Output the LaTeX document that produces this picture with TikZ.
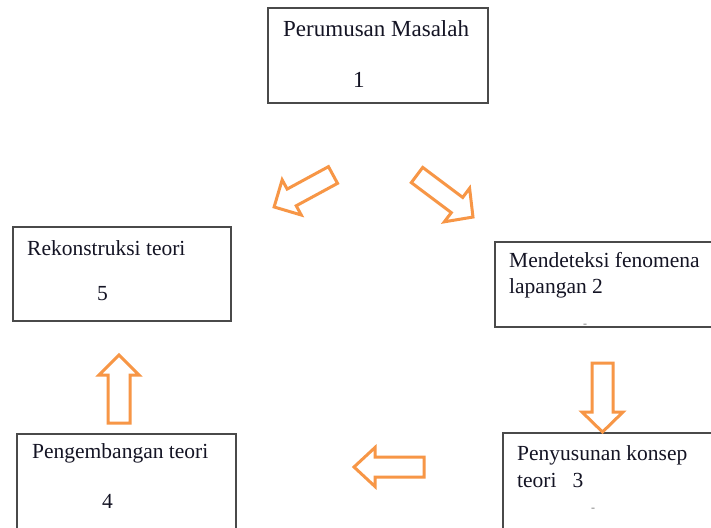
\documentclass[tikz,border=0pt]{standalone}
\usepackage{fontspec}
\setmainfont{Liberation Serif}
\definecolor{boxgray}{HTML}{4A4A4A}
\definecolor{arrorange}{HTML}{F79646}
\definecolor{textc}{HTML}{141424}
\begin{document}
\begin{tikzpicture}[x=1pt,y=-1pt,
  box/.style={draw=boxgray, line width=1.6pt, inner sep=0pt},
  lbl/.style={anchor=base west, inner sep=0pt, font=\fontsize{21.5}{26}\selectfont, text=textc},
  biglbl/.style={lbl, font=\fontsize{23}{27}\selectfont},
  dotlbl/.style={anchor=center, inner sep=0pt, font=\fontsize{12}{12}\selectfont, text=gray},
  arr/.style={draw=arrorange, line width=3pt, line join=miter},
  pics/barrow/.style args={#1/#2/#3/#4}{code={%
    \draw[arr] (0,-#2)--(#1-#4,-#2)--(#1-#4,-#3)--(#1,0)--(#1-#4,#3)--(#1-#4,#2)--(0,#2)--cycle;}}]
\useasboundingbox (0,0) rectangle (711,527);
\clip (0,0) rectangle (711,527);
\fill[white] (0,0) rectangle (711,527);
% boxes
\node[box, minimum width=220pt, minimum height=95pt] (b1) at (378,55.5) {};
\node[box, minimum width=235pt, minimum height=85pt] (b2) at (612.5,284.5) {};
\node[box, minimum width=237pt, minimum height=127pt] (b3) at (621.5,496.5) {};
\node[box, minimum width=219pt, minimum height=126pt] (b4) at (126.5,497) {};
\node[box, minimum width=218pt, minimum height=94pt] (b5) at (122,274) {};
% labels
\node[biglbl] (t1a) at (283,37) {Perumusan Masalah};
\node[biglbl] (t1b) at (353,87) {1};
\node[lbl] (t2a) at (509,267) {Mendeteksi fenomena};
\node[lbl] (t2b) at (509,293) {lapangan 2};
\node[dotlbl] (t2c) at (585,326) {-};
\node[lbl] (t3a) at (517,460) {Penyusunan konsep};
\node[lbl] (t3b) at (517,487) {teori\ \ \ 3};
\node[dotlbl] (t3c) at (593,510) {-};
\node[lbl] (t4a) at (32,458) {Pengembangan teori};
\node[lbl] (t4b) at (102,508) {4};
\node[lbl] (t5a) at (27,255) {Rekonstruksi teori};
\node[lbl] (t5b) at (97,300) {5};
% block arrows
\pic[rotate=-151.5] at (333,175) {barrow=67/9.5/20/20};
\pic[rotate=-36.9] at (417,175) {barrow=70/9.5/21/20};
\pic[rotate=-90] at (602.5,363) {barrow=69/10.5/20.5/20};
\pic[rotate=180] at (424,467) {barrow=70/10/19.5/21};
\pic[rotate=90] at (119,423) {barrow=68/11/20/20};
\end{tikzpicture}
\end{document}
